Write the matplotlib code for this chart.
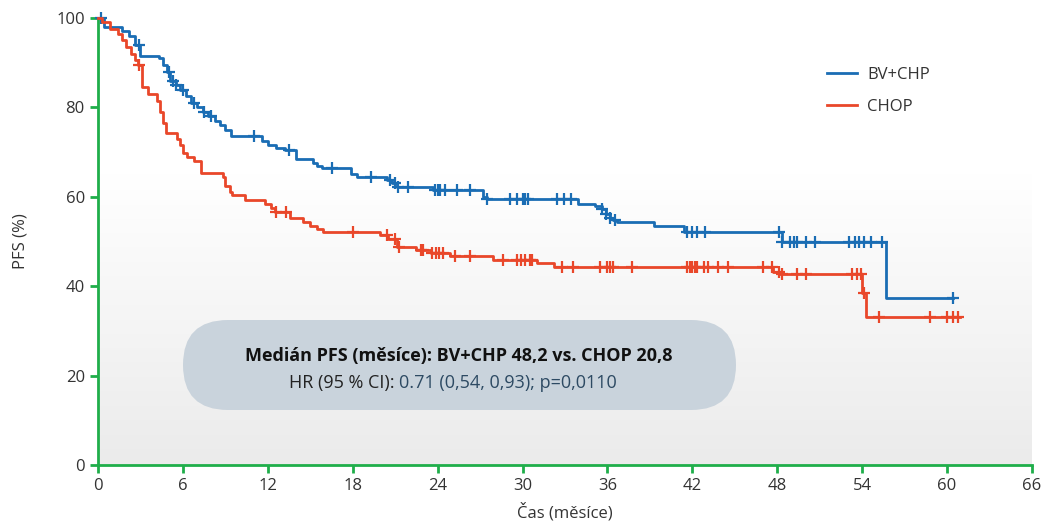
import numpy as np
import matplotlib
matplotlib.use("Agg")
import matplotlib.pyplot as plt
from matplotlib.patches import FancyBboxPatch
from matplotlib.transforms import IdentityTransform

plt.rcParams["font.family"] = ["Open Sans", "DejaVu Sans"]

# BV+CHP Kaplan-Meier steps (months, % PFS)
blue_t = [0, 0.4, 1.7, 2.2, 2.6, 3.0, 4.3, 4.6, 4.9, 5.1,
          5.5, 5.8, 6.2, 6.6, 7.0, 7.4, 7.8, 8.3, 8.6, 9.0,
          9.4, 11.6, 12.0, 12.6, 13.2, 14.0, 15.2, 15.5, 15.8, 17.9,
          18.3, 20.4, 20.8, 21.1, 23.7, 27.2, 27.5, 33.9, 35.1, 35.6,
          35.9, 36.2, 36.4, 36.7, 39.3, 41.4, 48.3, 55.7]
blue_s = [100, 98, 97, 96, 94, 91.5, 91, 89.5, 88, 86,
          85, 84, 82.5, 81, 80, 79, 78, 77, 76, 75,
          73.5, 72.5, 71.5, 71, 70.5, 68.5, 67.5, 67, 66.5, 65.2,
          64.5, 63.8, 63, 62.2, 61.5, 60, 59.4, 58.5, 58, 57.2,
          56.2, 55.3, 54.8, 54.3, 53.5, 52.2, 49.8, 37.3]
blue_end = 60.4
blue_cens = [0.2, 2.9, 5.0, 5.3, 5.5, 6.0, 6.8, 7.5, 8.0, 11.0, 13.5, 16.5,
             19.3, 20.6, 21.0, 21.2, 21.9, 23.8, 24.0, 24.2, 24.5, 25.4, 26.3,
             27.5, 29.1, 29.6, 30.0, 30.2, 30.4, 32.4, 32.9, 33.4, 35.6, 35.9,
             36.2, 36.5, 41.6, 42.0, 42.3, 42.9, 48.1, 48.3, 48.9, 49.2, 49.4,
             50.0, 50.7, 53.1, 53.5, 53.8, 54.1, 54.6, 55.4, 60.4]

# CHOP
red_t = [0, 0.3, 0.85, 1.4, 1.7, 2.0, 2.3, 2.6, 2.8, 3.1,
         3.5, 4.2, 4.4, 4.6, 4.8, 5.6, 5.8, 6.0, 6.3, 6.8,
         7.3, 8.8, 9.0, 9.3, 9.5, 10.4, 11.8, 12.2, 12.5, 13.6,
         14.5, 15.0, 15.5, 15.9, 19.9, 20.5, 21.1, 22.5, 23.5, 24.9,
         27.9, 31.0, 32.2, 47.7, 48.2, 54.0, 54.3]
red_s = [100, 99.2, 97.6, 96.5, 95, 93.5, 92, 90.5, 89.4, 84.5,
         83.1, 81.5, 79, 76.5, 74.2, 73, 71.5, 69.7, 68.8, 68,
         65.3, 64.4, 62.5, 61, 60.3, 59.2, 58.5, 57.4, 56.5, 55.2,
         54.3, 53.5, 52.8, 52.1, 51.4, 50.5, 48.7, 48, 47.4, 46.7,
         45.8, 45.2, 44.3, 43.1, 42.7, 38.4, 33.1]
red_end = 60.9
red_cens = [2.9, 12.6, 13.3, 18.0, 20.4, 21.0, 21.3, 22.8, 23.0, 23.6, 23.9,
            24.1, 24.4, 25.2, 26.3, 28.6, 29.6, 29.9, 30.2, 30.5, 30.7, 32.8,
            33.6, 35.5, 36.0, 36.2, 36.4, 37.7, 41.6, 41.8, 42.0, 42.2, 42.3,
            42.8, 43.1, 43.8, 44.5, 47.0, 47.6, 48.1, 48.3, 49.4, 50.0, 53.3,
            53.6, 53.9, 54.1, 55.2, 58.8, 60.0, 60.4, 60.8]

x_ticks = [0, 6, 12, 18, 24, 30, 36, 42, 48, 54, 60, 66]
y_ticks = [0, 20, 40, 60, 80, 100]

blue_col = "#1a6db4"
red_col = "#e9472a"
green = "#1fae4a"
tick_col = "#333333"

fig = plt.figure(figsize=(10.58, 5.21), dpi=100)
ax = fig.add_axes([98 / 1058, 1 - 465 / 521, 934 / 1058, 447 / 521])

# soft vertical gradient background
grad = np.linspace(0, 1, 256).reshape(-1, 1)
grad = np.clip((grad - 0.35) / 0.65, 0, 1)
ax.imshow(grad, extent=[0, 66, 0, 100], aspect="auto", origin="upper",
          cmap=matplotlib.colors.LinearSegmentedColormap.from_list(
              "bg", ["#ffffff", "#ebebeb"]), zorder=0)


def km(ax, t, s, end, cens, col, label):
    tt = list(t) + [end]
    ss = list(s) + [s[-1]]
    ax.step(tt, ss, where="post", color=col, lw=2, label=label,
            clip_on=False, zorder=3)
    idx = np.searchsorted(t, cens, side="right") - 1
    cy = np.array(s)[idx]
    ax.plot(cens, cy, linestyle="none", marker="+", ms=8, mew=1.6,
            color=col, clip_on=False, zorder=3)


km(ax, blue_t, blue_s, blue_end, blue_cens, blue_col, "BV+CHP")
km(ax, red_t, red_s, red_end, red_cens, red_col, "CHOP")

ax.set_xlim(0, 66)
ax.set_ylim(0, 100)
ax.set_xticks(x_ticks)
ax.set_yticks(y_ticks)
for sp in ["top", "right"]:
    ax.spines[sp].set_visible(False)
for sp in ["left", "bottom"]:
    ax.spines[sp].set_color(green)
    ax.spines[sp].set_linewidth(2)
ax.tick_params(axis="both", colors=green, width=2, length=6,
               labelcolor=tick_col, labelsize=12)
ax.set_xlabel("Čas (měsíce)", fontsize=12, color=tick_col, labelpad=6)
ax.set_ylabel("PFS (%)", fontsize=12, color=tick_col, labelpad=20)

ax.legend(loc="upper left", bbox_to_anchor=(812 / 1058, 1 - 52 / 521),
          bbox_transform=fig.transFigure, frameon=False, fontsize=12,
          handlelength=1.8, handletextpad=0.6, labelspacing=0.95,
          labelcolor=tick_col)

# pill-shaped annotation box (pixel coords)
pill = FancyBboxPatch((183, 521 - 410), 553, 90,
                      boxstyle="round,pad=0,rounding_size=45",
                      transform=IdentityTransform(), facecolor="#c9d3dc",
                      edgecolor="none", zorder=5)
fig.patches.append(pill)

fig.text(459 / 1058, 1 - 356 / 521,
         "Medián PFS (měsíce): BV+CHP 48,2 vs. CHOP 20,8",
         ha="center", va="center", fontsize=13, fontweight="bold",
         color="#111111", zorder=6)
fig.text(399 / 1058, 1 - 383 / 521, "HR (95 % CI): ", ha="right",
         va="center", fontsize=13, color="#222222", zorder=6)
fig.text(399 / 1058, 1 - 383 / 521, "0.71 (0,54, 0,93); p=0,0110",
         ha="left", va="center", fontsize=13, color="#2d4a63", zorder=6)

fig.savefig("out.png", dpi=100)
